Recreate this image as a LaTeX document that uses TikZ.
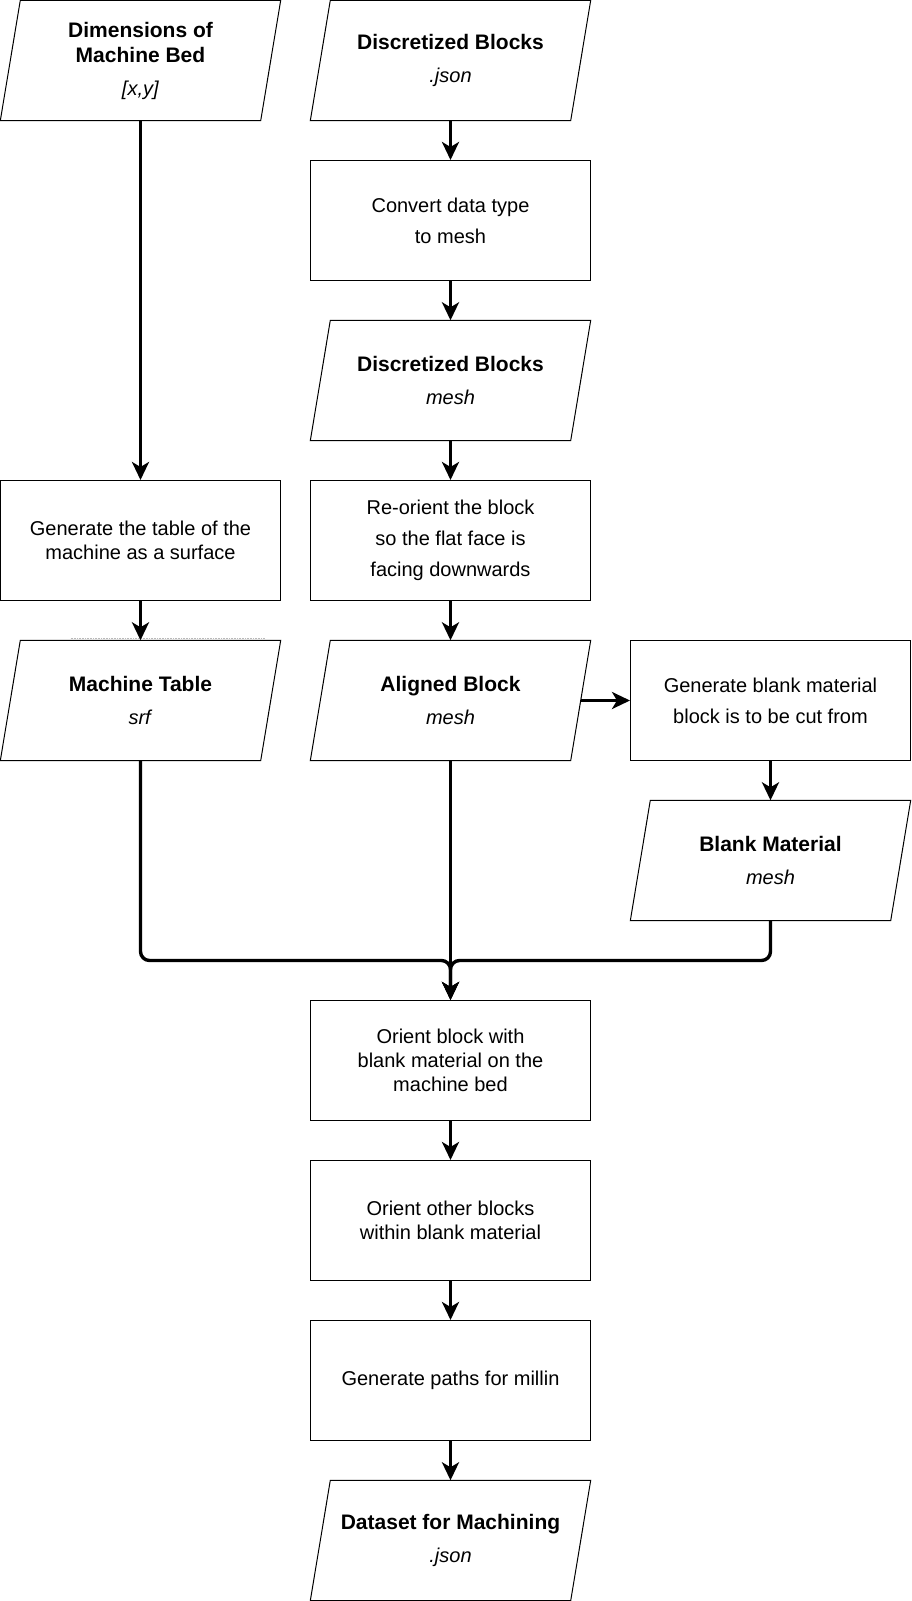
\documentclass[tikz,border=0pt]{standalone}
\usepackage{fontspec}
\setmainfont{Liberation Sans}
\usetikzlibrary{arrows.meta}
\newcommand{\datatitle}[1]{{\fontsize{21}{24}\selectfont\bfseries #1}}

\begin{document}
\begin{tikzpicture}[x=1pt, y=-1pt,
        every node/.style={font=\fontsize{20}{24}\selectfont, align=center, inner sep=0pt},
        process/.style={draw, line width=1pt, rectangle, minimum width=280pt, minimum height=120pt},
        dataio/.style={rectangle, minimum width=280pt, minimum height=120pt},
        slanted/.style={line width=1pt, line join=miter},
        flow/.style={line width=3.4pt, -{Stealth[length=18pt, width=17pt, inset=5pt]}},
        merge/.style={flow, rounded corners=9pt}]
        \useasboundingbox (-0.5,-0.5) rectangle (910.5,1600.5);

        \node[dataio] (dimbed) at (140,60) {\datatitle{Dimensions of}\\[1pt]\datatitle{Machine Bed}\\[9pt]\textit{[x,y]}};
        \node[dataio] (blocksjson) at (450,60) {\datatitle{Discretized Blocks}\\[8.5pt]\textit{.json}};
        \node[process] (convert) at (450,220) {Convert data type\\[7pt]to mesh};
        \node[dataio] (blocksmesh) at (450,380) {\datatitle{Discretized Blocks}\\[8.5pt]\textit{mesh}};

        \node[process] (tablegen) at (140,540) {Generate the table of the\\machine as a surface};
        \node[process] (reorient) at (450,540) {Re-orient the block\\[7pt]so the flat face is\\[7pt]facing downwards};

        \node[dataio] (machtable) at (140,700) {\datatitle{Machine Table}\\[8.5pt]\textit{srf}};
        \node[dataio] (aligned) at (450,700) {\datatitle{Aligned Block}\\[8.5pt]\textit{mesh}};
        \node[process] (blankgen) at (770,700) {Generate blank material\\[7pt]block is to be cut from};
        \node[dataio] (blankmat) at (770,860) {\datatitle{Blank Material}\\[8.5pt]\textit{mesh}};

        \node[process] (orientbed) at (450,1060) {Orient block with\\blank material on the\\machine bed};
        \node[process] (orientother) at (450,1220) {Orient other blocks\\within blank material};
        \node[process] (paths) at (450,1380) {Generate paths for millin};
        \node[dataio] (dataset) at (450,1540) {\datatitle{Dataset for Machining}\\[8.5pt]\textit{.json}};

        % data nodes: parallelogram outlines
        \foreach \n in {dimbed,blocksjson,blocksmesh,machtable,aligned,blankmat,dataset}
            \draw[slanted] (\n.south west) -- ([xshift=20pt]\n.north west) -- (\n.north east)
                -- ([xshift=-20pt]\n.south east) -- cycle;

        % faint dotted trace above the machine table
        \draw[gray!55, densely dotted, line width=0.6pt] (70,638) -- (265,638);

        \draw[flow] (dimbed) -- (tablegen);
        \draw[flow] (blocksjson) -- (convert);
        \draw[flow] (convert) -- (blocksmesh);
        \draw[flow] (blocksmesh) -- (reorient);
        \draw[flow] (tablegen) -- (machtable);
        \draw[flow] (reorient) -- (aligned);
        \draw[flow] ([xshift=-10pt]aligned.east) -- (blankgen);
        \draw[flow] (blankgen) -- (blankmat);

        \draw[merge] (machtable.south) -- (140,960) -- (450,960) -- (orientbed.north);
        \draw[merge] (blankmat.south) -- (770,960) -- (450,960) -- (orientbed.north);
        \draw[flow] (aligned.south) -- (orientbed.north);

        \draw[flow] (orientbed) -- (orientother);
        \draw[flow] (orientother) -- (paths);
        \draw[flow] (paths) -- (dataset);
    \end{tikzpicture}
\end{document}
